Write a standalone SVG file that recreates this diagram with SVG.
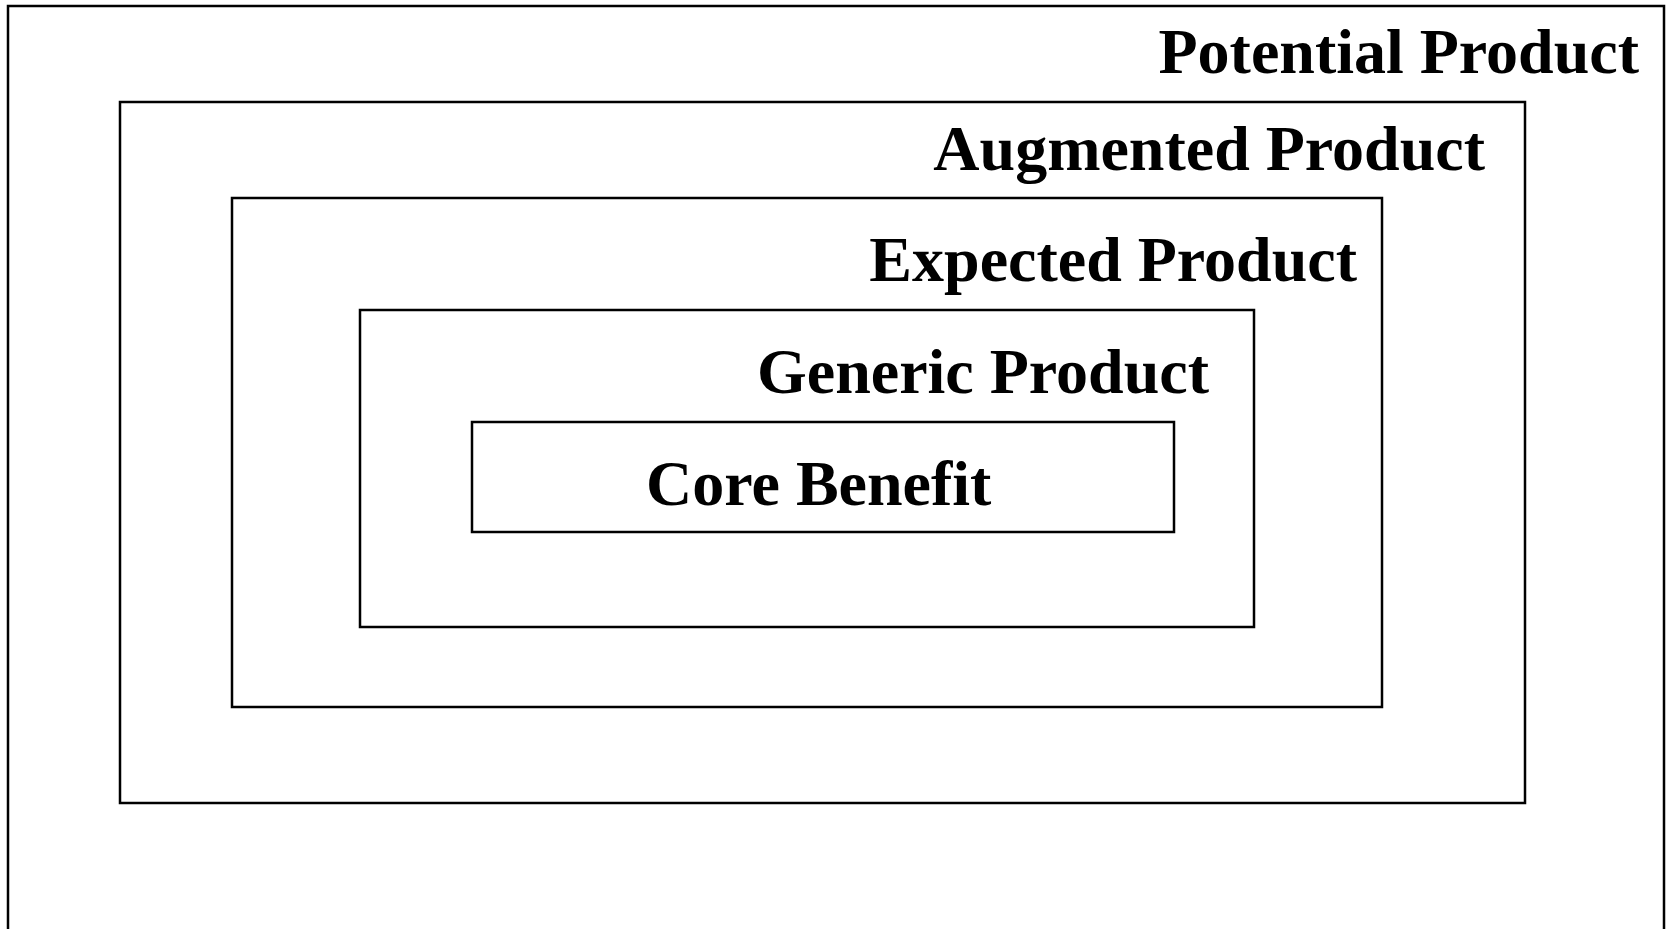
<svg xmlns="http://www.w3.org/2000/svg" width="1675" height="929" viewBox="0 0 1675 929">
<style>
.box{fill:none;stroke:#000;stroke-width:2.5}
.lbl{font-family:"Liberation Serif","Times New Roman",serif;font-weight:bold;font-size:64px;fill:#000}
</style>
<rect width="1675" height="929" fill="#fff"/>
<g id="potential">
<rect class="box" x="8" y="6" width="1656" height="940"/>
<text class="lbl" x="1639" y="73" text-anchor="end">Potential Product</text>
</g>
<g id="augmented">
<rect class="box" x="120" y="102" width="1405" height="701"/>
<text class="lbl" x="1485" y="170" text-anchor="end">Augmented Product</text>
</g>
<g id="expected">
<rect class="box" x="232" y="198" width="1150" height="509"/>
<text class="lbl" x="1357" y="281" text-anchor="end">Expected Product</text>
</g>
<g id="generic">
<rect class="box" x="360" y="310" width="894" height="317"/>
<text class="lbl" x="1209" y="393" text-anchor="end">Generic Product</text>
</g>
<g id="core">
<rect class="box" x="472" y="422" width="702" height="110"/>
<text class="lbl" x="646" y="505">Core Benefit</text>
</g>
<g id="connectors"></g>
</svg>
